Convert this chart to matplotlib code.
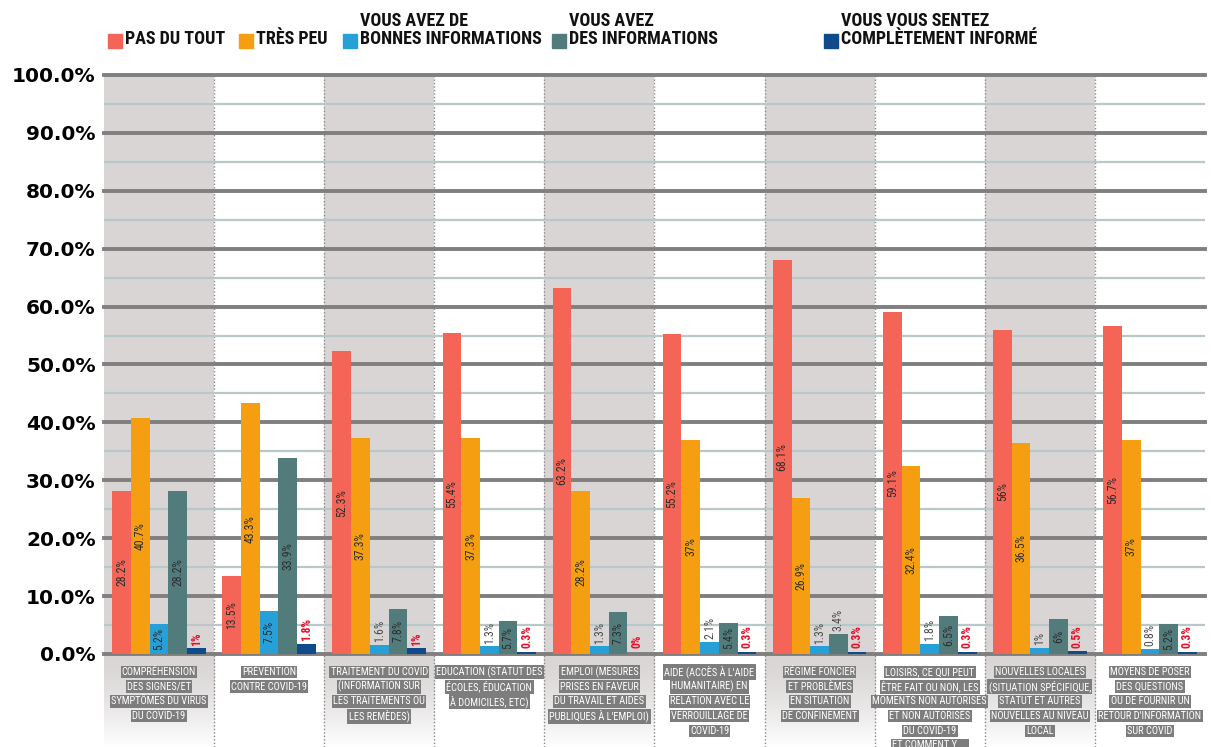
import matplotlib.pyplot as plt
import numpy as np
from matplotlib.patches import Rectangle

NARROW = ["Roboto Condensed", "Liberation Sans Narrow", "Liberation Sans", "DejaVu Sans"]

categories = [
    ["Compréhension", "des signes/et", "symptômes du virus", "du covid-19"],
    ["Prévention", "contre covid-19"],
    ["Traitement du covid", "(Information sur", "les traitements ou", "les remèdes)"],
    ["Education (statut des", "écoles, éducation", "à domiciles, etc)"],
    ["Emploi (Mesures", "prises en faveur", "du travail et aides", "publiques à l'emploi)"],
    ["Aide (accès à l'aide", "humanitaire) en", "relation avec le", "verrouillage de", "covid-19"],
    ["Régime foncier", "et problèmes", "en situation", "de confinement"],
    ["Loisirs, ce qui peut", "être fait ou non, les", "moments non autorisés",
     "et non autorisés", "du COVID-19", "et comment y ..."],
    ["Nouvelles Locales", "(situation spécifique,", "statut et autres",
     "nouvelles au niveau", "local"],
    ["Moyens de poser", "des questions", "ou de fournir un",
     "retour d'information", "sur covid"],
]

series_names = [
    "PAS DU TOUT",
    "TRÈS PEU",
    "VOUS AVEZ DE\nBONNES INFORMATIONS",
    "VOUS AVEZ\nDES INFORMATIONS",
    "VOUS VOUS SENTEZ\nCOMPLÈTEMENT INFORMÉ",
]
pas_du_tout = [28.2, 13.5, 52.3, 55.4, 63.2, 55.2, 68.1, 59.1, 56.0, 56.7]
tres_peu = [40.7, 43.3, 37.3, 37.3, 28.2, 37.0, 26.9, 32.4, 36.5, 37.0]
bonnes_info = [5.2, 7.5, 1.6, 1.3, 1.3, 2.1, 1.3, 1.8, 1.0, 0.8]
des_info = [28.2, 33.9, 7.8, 5.7, 7.3, 5.4, 3.4, 6.5, 6.0, 5.2]
completement = [1.0, 1.8, 1.0, 0.3, 0.0, 0.3, 0.3, 0.3, 0.5, 0.3]
series = [pas_du_tout, tres_peu, bonnes_info, des_info, completement]
colors = ["#f46557", "#f59e12", "#27a0d8", "#527c7c", "#0f4a8a"]

fig = plt.figure(figsize=(12.13, 7.47), dpi=100)
ax = fig.add_axes([0.0857, 0.1245, 0.9077, 0.7751])
n = len(categories)

# grey background on every other category, fading out below the axis
fade = np.linspace(0, 1, 100).reshape(-1, 1) ** 1.5
for i in range(n):
    if i % 2 == 0:
        ax.axvspan(i - 0.5, i + 0.5, color="#d9d5d5", zorder=0, lw=0)
        grad = np.ones((100, 1, 3))
        base = np.array([0xd9, 0xd5, 0xd5]) / 255
        grad[:, 0, :] = base + (1 - base) * fade
        ax.imshow(grad, extent=(i - 0.5, i + 0.5, -16, 0), aspect="auto",
                  clip_on=False, zorder=0, interpolation="bilinear")
for i in range(1, n):
    ax.plot([i - 0.5, i - 0.5], [-16, 100], color="#8a8a8a", lw=1,
            ls=(0, (1, 1.5)), clip_on=False, zorder=1)
ax.set_xlim(-0.5, n - 0.5)
ax.set_ylim(0, 100)

for y in range(5, 100, 10):
    ax.axhline(y, color="#b8c8c8", lw=1.6, zorder=1)
for y in range(0, 101, 10):
    ax.axhline(y, color="#7f7f7f", lw=2.8, zorder=1, clip_on=False)

w = 0.17
x = np.arange(n)
for k, (vals, c) in enumerate(zip(series, colors)):
    xs = x + (k - 2) * w
    ax.bar(xs, vals, width=w, color=c, zorder=2, lw=0)
    for xi, v in zip(xs, vals):
        txt = f"{v:g}%"
        if k == 4:
            ax.text(xi, max(v, 0.6) + 0.4, txt, rotation=90, ha="center", va="bottom",
                    fontsize=8.5, family=NARROW, fontweight="bold", color="#e8102a", zorder=3)
        elif v >= 5:
            ax.text(xi, v / 2, txt, rotation=90, ha="center", va="center",
                    fontsize=8.5, family=NARROW, color="#2d2d2d", zorder=3)
        else:
            ax.text(xi, v + 0.5, txt, rotation=90, ha="center", va="bottom",
                    fontsize=8.5, family=NARROW, color="#4a4a4a", zorder=3)

ax.set_yticks(range(0, 101, 10))
ax.set_yticklabels([f"{t:.1f}%" for t in range(0, 101, 10)],
                   fontsize=14.5, fontweight="bold", family="DejaVu Sans")
ax.tick_params(axis="y", length=0, pad=6)
ax.set_xticks([])
for s in ax.spines.values():
    s.set_visible(False)

# category labels: one grey box per line
for i, lines in enumerate(categories):
    for j, line in enumerate(lines):
        ax.annotate(line.upper(), xy=(i, 0), xytext=(0, -18 - j * 14.7),
                    textcoords="offset pixels", ha="center", va="center",
                    fontsize=7.5, family=NARROW, color="white", annotation_clip=False,
                    bbox=dict(boxstyle="square,pad=0.12", fc="#7d7d7d", ec="none"))

# legend drawn by hand, in pixel positions
W, H = 1213, 747
legend_x = [108, 239, 343, 552, 824]
for lx, name, c in zip(legend_x, series_names, colors):
    fig.patches.append(Rectangle((lx / W, 1 - 48 / H), 14 / W, 14 / H,
                                 transform=fig.transFigure, color=c))
    fig.text((lx + 17) / W, 1 - 48 / H, name, ha="left", va="bottom",
             fontsize=13, fontweight="bold", family=NARROW, linespacing=1.0,
             color="#111111")

fig.savefig("out.png", dpi=100)
